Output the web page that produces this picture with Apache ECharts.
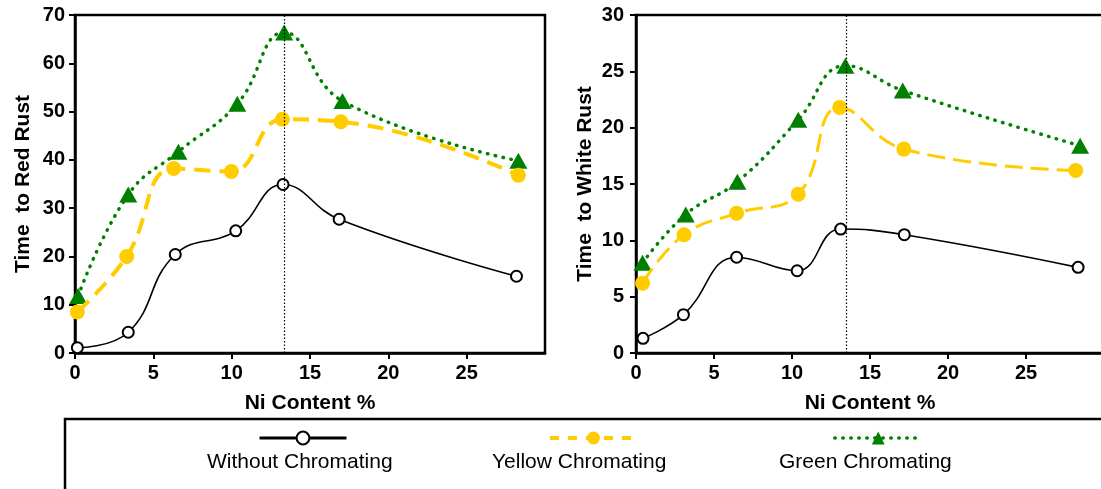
<!DOCTYPE html>
<html>
<head>
<meta charset="utf-8">
<script src="https://cdn.jsdelivr.net/npm/echarts@6/dist/echarts.min.js"></script>
<style>
  html, body { margin: 0; padding: 0; background: #fff; }
  #chart { width: 1101px; height: 489px; }
</style>
</head>
<body>
<div id="chart"></div>
<script>
// ---- Data ----
const seriesNames = ['Without Chromating', 'Yellow Chromating', 'Green Chromating'];

// Left panel: Time to Red Rust
const redNiWithout = [0.15, 3.4, 6.4, 10.26, 13.28, 16.86, 28.18];
const redWithout   = [1.1, 4.3, 20.4, 25.3, 34.9, 27.7, 15.9];
const redNiYellow  = [0.15, 3.3, 6.3, 9.98, 13.24, 16.97, 28.3];
const redYellow    = [8.5, 20.0, 38.2, 37.6, 48.4, 47.9, 36.8];
const redNiGreen   = [0.2, 3.4, 6.6, 10.36, 13.35, 17.07, 28.3];
const redGreen     = [11.8, 32.8, 41.7, 51.6, 66.4, 52.2, 39.8];

// Right panel: Time to White Rust
const whiteNiWithout = [0.45, 3.04, 6.45, 10.33, 13.12, 17.2, 28.34];
const whiteWithout   = [1.3, 3.4, 8.5, 7.3, 11.0, 10.5, 7.6];
const whiteNiYellow  = [0.42, 3.08, 6.45, 10.4, 13.06, 17.17, 28.19];
const whiteYellow    = [6.2, 10.5, 12.4, 14.1, 21.8, 18.1, 16.2];
const whiteNiGreen   = [0.42, 3.19, 6.5, 10.4, 13.42, 17.1, 28.47];
const whiteGreen     = [8.0, 12.3, 15.2, 20.7, 25.5, 23.3, 18.4];

// Dotted reference lines (Ni %)
const peakNi = [13.35, 13.5];

const yNames = ['Time  to Red Rust', 'Time  to White Rust'];
const xName = 'Ni Content %';
const yMax = [70, 30];
const yStep = [10, 5];

// ---- Styles ----
const FONT = '"Liberation Sans", Arial, sans-serif';
const BLACK = '#000000';
const YELLOW = '#FFCC00';
const GREEN = '#008000';

function pairs(xs, ys) { return xs.map((x, i) => [x, ys[i]]); }

function axisCommon() {
  return {
    axisLine: { show: true, lineStyle: { color: BLACK, width: 2.5 } },
    axisTick: { show: true, inside: false, length: 6, lineStyle: { color: BLACK, width: 2 } },
    splitLine: { show: false },
    axisLabel: { color: BLACK, fontFamily: FONT, fontWeight: 'bold', fontSize: 20 },
    nameTextStyle: { color: BLACK, fontFamily: FONT, fontWeight: 'bold', fontSize: 21 }
  };
}

const grids = [
  { left: 75, top: 15, width: 470, height: 338, show: true, borderColor: BLACK, borderWidth: 2.5, containLabel: false, outerBoundsMode: 'none' },
  { left: 636, top: 15, width: 468, height: 338, show: true, borderColor: BLACK, borderWidth: 2.5, containLabel: false, outerBoundsMode: 'none' }
];

const xAxes = [0, 1].map(i => Object.assign(axisCommon(), {
  type: 'value', gridIndex: i, min: 0, max: 30, interval: 5,
  name: xName, nameLocation: 'middle', nameGap: 40,
  axisLabel: Object.assign(axisCommon().axisLabel, {
    margin: 10,
    showMaxLabel: false,
    formatter: v => (v >= 30 ? '' : String(v))
  })
}));

const yAxes = [0, 1].map(i => Object.assign(axisCommon(), {
  type: 'value', gridIndex: i, min: 0, max: yMax[i], interval: yStep[i],
  name: yNames[i], nameLocation: 'middle', nameGap: i === 0 ? 41 : 40, nameRotate: 90,
  axisLabel: Object.assign(axisCommon().axisLabel, { margin: i === 0 ? 10 : 12 })
}));

function withoutSeries(idx, data, peak) {
  return {
    name: seriesNames[0], type: 'line', xAxisIndex: idx, yAxisIndex: idx,
    data: data, smooth: 0.45,
    symbol: 'emptyCircle', symbolSize: 11,
    lineStyle: { color: BLACK, width: 1.6 },
    itemStyle: { color: BLACK, borderColor: BLACK, borderWidth: 3.2 },
    z: 4,
    markLine: {
      silent: true, symbol: ['none', 'none'], label: { show: false },
      lineStyle: { color: BLACK, type: [1.5, 2], width: 1.2 },
      data: [{ xAxis: peak }]
    }
  };
}
function yellowSeries(idx, data, w, dash) {
  return {
    name: seriesNames[1], type: 'line', xAxisIndex: idx, yAxisIndex: idx,
    data: data, smooth: 0.45,
    symbol: 'circle', symbolSize: 15,
    lineStyle: { color: YELLOW, width: w, type: dash },
    itemStyle: { color: YELLOW },
    z: 3
  };
}
function greenSeries(idx, data) {
  return {
    name: seriesNames[2], type: 'line', xAxisIndex: idx, yAxisIndex: idx,
    data: data, smooth: 0.45,
    symbol: 'triangle', symbolSize: [18, 16],
    lineStyle: { color: GREEN, width: 3.5, type: [0.5, 7.5], cap: 'round' },
    itemStyle: { color: GREEN },
    z: 2
  };
}

const series = [
  withoutSeries(0, pairs(redNiWithout, redWithout), peakNi[0]),
  yellowSeries(0, pairs(redNiYellow, redYellow), 4, [16, 9]),
  greenSeries(0, pairs(redNiGreen, redGreen)),
  withoutSeries(1, pairs(whiteNiWithout, whiteWithout), peakNi[1]),
  yellowSeries(1, pairs(whiteNiYellow, whiteYellow), 3, [18, 8]),
  greenSeries(1, pairs(whiteNiGreen, whiteGreen))
];

const legendLefts = [258, 548, 833];
const legendTextCenters = [302, 587, 874];
const legends = seriesNames.map((n, i) => ({
  data: [n], left: legendLefts[i], top: 430, padding: 0,
  itemWidth: 87, itemHeight: 16, selectedMode: false,
  formatter: () => '',
  textStyle: { fontSize: 1 },
  lineStyle: i === 0 ? { width: 3 } : (i === 1 ? { width: 4, type: [9, 9] } : { width: 3.5 })
}));

const option = {
  animation: false,
  backgroundColor: '#ffffff',
  grid: grids,
  xAxis: xAxes,
  yAxis: yAxes,
  legend: legends,
  series: series,
  graphic: [
    { type: 'rect', shape: { x: 65, y: 419, width: 1100, height: 120 },
      style: { fill: 'none', stroke: BLACK, lineWidth: 2.5 }, silent: true, z: 0 }
  ].concat(seriesNames.map((n, i) => ({
    type: 'text', left: legendTextCenters[i] - 95, top: 452, silent: true,
    style: { text: n, fill: BLACK, font: '21px ' + FONT, width: 190, align: 'center' }
  })))
};

const chart = echarts.init(document.getElementById('chart'), null, { renderer: 'canvas' });
chart.setOption(option);
</script>
</body>
</html>
